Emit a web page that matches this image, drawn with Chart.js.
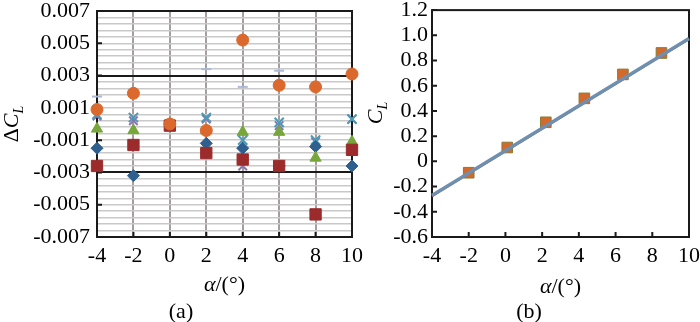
<!DOCTYPE html>
<html><head><meta charset="utf-8">
<script src="https://cdn.jsdelivr.net/npm/chart.js@4"></script>
<style>
html,body{margin:0;padding:0;background:#fff;width:700px;height:322px;overflow:hidden}
#wa{position:absolute;left:0;top:0;width:363px;height:322px}
#wb{position:absolute;left:350px;top:0;width:350px;height:322px}
</style></head><body>
<div id="wa"><canvas id="ca"></canvas></div>
<div id="wb"><canvas id="cb"></canvas></div>
<script>
// ---------- data: panel (a) ΔC_L ----------
const alphaA = [-4, -2, 0, 2, 4, 6, 8, 10];
const circleVals   = [0.0009, 0.0019, 0.0000, -0.0004, 0.0052, 0.0024, 0.0023, 0.0031];
const squareVals   = [-0.0026, -0.0013, -0.0001, -0.0018, -0.0022, -0.0026, -0.0056, -0.0016];
const triangleVals = [-0.0003, -0.0004, 0.0000, -0.0004, -0.0005, -0.0005, -0.0021, -0.0011];
const diamondVals  = [-0.0015, -0.0032, 0.0000, -0.0012, -0.0015, -0.0026, -0.0014, -0.0026];
const crossVals    = [0.0006, 0.0004, 0.0000, 0.0004, -0.0010, 0.0001, -0.0010, 0.0003];
const cross2Vals   = [0.0005, 0.0002, 0.0000, 0.0003, -0.0026, -0.0001, -0.0011, 0.0003];
const dashVals     = [0.0017, 0.0021, 0.0000, 0.0034, 0.0023, 0.0033, 0.0023, 0.0031];
const yTickLabelsA = ['-0.007', '-0.005', '-0.003', '-0.001', '0.001', '0.003', '0.005', '0.007'];
const limitLinesA  = [-0.003, 0.003];

// ---------- data: panel (b) C_L ----------
const alphaB = [-2, 0.1, 2.2, 4.3, 6.4, 8.5];
const clVals = [-0.09, 0.11, 0.31, 0.50, 0.69, 0.86];
const fitAlpha = [-4, 10];
const fitBlue = [-0.27, 0.975];
const fitRed  = [-0.275, 0.97];

const serif = "'Liberation Serif', 'DejaVu Serif', serif";
Chart.defaults.font.family = serif;
Chart.defaults.color = '#000';

function pts(xs, ys) { return xs.map((x, i) => ({x: x, y: ys[i]})); }

const framePlugin = {
  id: 'frameTicks',
  beforeDatasetsDraw(chart, args, o) {
    const {ctx, chartArea: a, scales} = chart;
    ctx.save();
    ctx.strokeStyle = '#1a1a1a';
    ctx.lineWidth = 2;
    ctx.strokeRect(a.left, a.top, a.right - a.left, a.bottom - a.top);
    ctx.beginPath();
    scales.x.ticks.forEach(t => {
      const px = scales.x.getPixelForValue(t.value);
      ctx.moveTo(px, a.bottom); ctx.lineTo(px, a.bottom - 5);
    });
    scales.y.ticks.forEach((t, i) => {
      if (o.yEvery && i % o.yEvery !== 0) return;
      const py = scales.y.getPixelForValue(t.value);
      ctx.moveTo(a.left, py); ctx.lineTo(a.left + 5, py);
    });
    ctx.stroke();
    ctx.restore();
  }
};

const titlePlugin = {
  id: 'axisTitles',
  afterDraw(chart, args, o) {
    const {ctx, chartArea: a} = chart;
    ctx.save();
    ctx.fillStyle = '#000';
    ctx.textBaseline = 'alphabetic';
    const parts = [
      {t: o.yPre, f: `22px ${serif}`, dy: 0},
      {t: 'C', f: `italic 22px ${serif}`, dy: 0},
      {t: 'L', f: `italic 14px ${serif}`, dy: 5}
    ].filter(p => p.t);
    let total = 0;
    parts.forEach(p => { ctx.font = p.f; p.w = ctx.measureText(p.t).width; total += p.w; });
    ctx.translate(o.yX, o.yY);
    ctx.rotate(-Math.PI / 2);
    let x = -total / 2;
    ctx.textAlign = 'left';
    parts.forEach(p => { ctx.font = p.f; ctx.fillText(p.t, x, 7 + p.dy); x += p.w; });
    ctx.setTransform(1, 0, 0, 1, 0, 0);
    const cx = (a.left + a.right) / 2;
    ctx.font = `italic 22px ${serif}`;
    const wA = ctx.measureText('α').width;
    ctx.font = `22px ${serif}`;
    const wR = ctx.measureText('/(°)').width;
    const sx = cx - (wA + wR) / 2;
    ctx.font = `italic 22px ${serif}`;
    ctx.fillText('α', sx, o.xBase);
    ctx.font = `22px ${serif}`;
    ctx.fillText('/(°)', sx + wA, o.xBase);
    ctx.textAlign = 'center';
    ctx.fillText(o.panel, o.panelX, o.panelBase);
    ctx.restore();
  }
};

const tickFont = {family: serif, size: 22, lineHeight: 1.0};
const tickFontB = {family: serif, size: 22, lineHeight: 0.92};

function ds(label, vals, style, color, r, extra) {
  return Object.assign({
    label: label, data: pts(alphaA, vals), pointStyle: style,
    backgroundColor: color, borderColor: color, pointRadius: r,
    pointBorderWidth: 1, clip: false, showLine: false
  }, extra || {});
}

new Chart(document.getElementById('ca'), {
  type: 'scatter',
  data: {
    datasets: [
      ds('circle', circleVals, 'circle', '#db682c', 6),
      ds('square', squareVals, 'rect', '#9c2b2c', 8),
      ds('triangle', triangleVals, 'triangle', '#77a63a', 6.5),
      ds('diamond', diamondVals, 'rectRot', '#2f5f8f', 6),
      ds('cross', crossVals, 'crossRot', '#4d9ab6', 6.5, {pointBorderWidth: 2}),
      ds('cross2', cross2Vals, 'crossRot', '#8c74ad', 6, {pointBorderWidth: 2}),
      ds('dash', dashVals, 'line', '#a9b9d6', 5, {pointBorderWidth: 2})
    ]
  },
  options: {
    responsive: true, maintainAspectRatio: false, animation: false, devicePixelRatio: 1,
    layout: {padding: 0},
    plugins: {
      legend: {display: false}, tooltip: {enabled: false},
      frameTicks: {yEvery: 5},
      axisTitles: {yPre: 'Δ', yX: 11, yY: 124, xBase: 291, panel: '(a)', panelX: 181, panelBase: 318}
    },
    scales: {
      x: {
        type: 'linear', min: -4, max: 10,
        afterFit: s => { s.height = 85; },
        ticks: {stepSize: 2, autoSkip: false, maxRotation: 0, padding: 0, font: tickFont, color: '#000'},
        grid: {color: '#a69e9e', lineWidth: 2, drawTicks: true, tickLength: 8, tickColor: 'rgba(0,0,0,0)'},
        border: {display: false}
      },
      y: {
        type: 'linear', min: -0.007, max: 0.007, z: -1,
        afterFit: s => { s.width = 97; },
        afterBuildTicks: s => {
          const arr = [];
          for (let i = 0; i <= 35; i++) arr.push({value: +(-0.007 + i * 0.0004).toFixed(4)});
          s.ticks = arr;
        },
        ticks: {
          autoSkip: false, padding: 0, font: tickFont, color: '#000',
          callback: (v, i) => (i % 5 === 0 ? yTickLabelsA[i / 5] : '')
        },
        grid: {
          drawTicks: true, tickLength: 7, tickColor: 'rgba(0,0,0,0)',
          color: c => (c.tick && limitLinesA.some(l => Math.abs(c.tick.value - l) < 1e-6)) ? '#1a1a1a' : '#c9c9c9',
          lineWidth: c => (c.tick && limitLinesA.some(l => Math.abs(c.tick.value - l) < 1e-6)) ? 2 : 1.5
        },
        border: {display: false}
      }
    }
  },
  plugins: [framePlugin, titlePlugin]
});

new Chart(document.getElementById('cb'), {
  type: 'scatter',
  data: {
    datasets: [
      {label: 'fit', data: pts(fitAlpha, fitBlue), showLine: true, borderColor: '#6f8fb0', borderWidth: 3.5, pointRadius: 0, clip: false},
      {label: 'fit2', data: pts(fitAlpha, fitRed), showLine: true, borderColor: '#b4503e', borderWidth: 2, pointRadius: 0, clip: false},
      {label: 'CL', data: pts(alphaB, clVals), pointStyle: 'rect', pointRadius: 7.5, backgroundColor: '#d4692c', borderColor: '#8a7a35', pointBorderWidth: 1, clip: false}
    ]
  },
  options: {
    responsive: true, maintainAspectRatio: false, animation: false, devicePixelRatio: 1,
    layout: {padding: 0},
    plugins: {
      legend: {display: false}, tooltip: {enabled: false},
      frameTicks: {yEvery: 1},
      axisTitles: {yPre: '', yX: 25, yY: 113, xBase: 293, panel: '(b)', panelX: 179, panelBase: 318}
    },
    scales: {
      x: {
        type: 'linear', min: -4, max: 10,
        afterFit: s => { s.height = 85; },
        ticks: {stepSize: 2, autoSkip: false, maxRotation: 0, padding: 0, font: tickFont, color: '#000'},
        grid: {display: true, drawOnChartArea: false, drawTicks: true, tickLength: 8, tickColor: 'rgba(0,0,0,0)'},
        border: {display: false}
      },
      y: {
        type: 'linear', min: -0.6, max: 1.2,
        afterFit: s => { s.width = 82; },
        ticks: {
          stepSize: 0.2, autoSkip: false, padding: 0, font: tickFontB, color: '#000',
          callback: v => (Math.abs(v) < 1e-9 ? '0' : v.toFixed(1))
        },
        grid: {display: true, drawOnChartArea: false, drawTicks: true, tickLength: 4, tickColor: 'rgba(0,0,0,0)'},
        border: {display: false}
      }
    }
  },
  plugins: [framePlugin, titlePlugin]
});
</script>
</body></html>
